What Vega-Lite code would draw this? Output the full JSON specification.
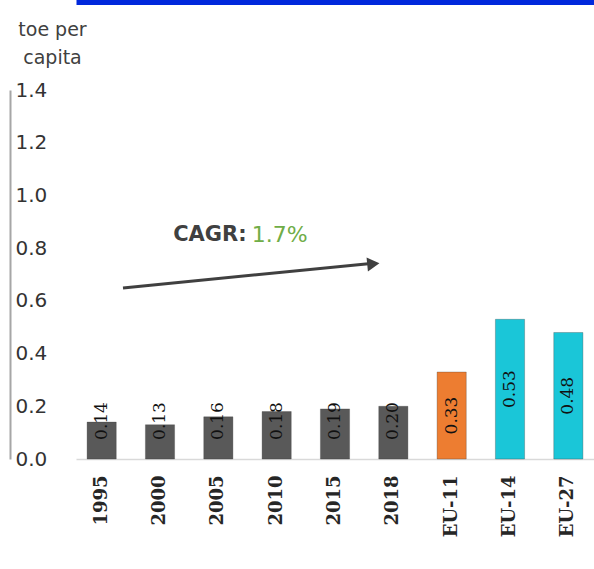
{
  "$schema": "https://vega.github.io/schema/vega-lite/v6.json",
  "width": 518,
  "height": 369,
  "autosize": {"type": "none"},
  "padding": {"left": 76, "top": 90, "right": 0, "bottom": 110},
  "background": "white",
  "config": {"view": {"stroke": null}, "font": "DejaVu Sans"},
  "data": {
    "values": [
      {"label": "1995", "value": 0.14, "kind": "Year"},
      {"label": "2000", "value": 0.13, "kind": "Year"},
      {"label": "2005", "value": 0.16, "kind": "Year"},
      {"label": "2010", "value": 0.18, "kind": "Year"},
      {"label": "2015", "value": 0.19, "kind": "Year"},
      {"label": "2018", "value": 0.20, "kind": "Year"},
      {"label": "EU-11", "value": 0.33, "kind": "EU-11"},
      {"label": "EU-14", "value": 0.53, "kind": "EU-14/27"},
      {"label": "EU-27", "value": 0.48, "kind": "EU-14/27"}
    ]
  },
  "resolve": {"scale": {"y": "independent"}},
  "layer": [
    {
      "layer": [
        {
          "mark": {"type": "bar", "stroke": "#3a3a3a", "strokeWidth": 0.6, "strokeOpacity": 0.5},
          "encoding": {
            "x": {
              "field": "label", "type": "nominal", "sort": null,
              "scale": {"paddingInner": 0.5, "paddingOuter": 0.19},
              "axis": {
                "orient": "bottom", "title": null, "labelAngle": 270, "labelPadding": 16,
                "labelFontSize": 18, "labelFont": "DejaVu Serif", "labelFontWeight": "bold", "labelColor": "#262626",
                "ticks": false, "tickSize": 0, "domainColor": "#D9D9D9", "domainWidth": 1.5, "grid": false
              }
            },
            "y": {
              "field": "value", "type": "quantitative",
              "scale": {"domain": [0, 1.4]},
              "axis": {
                "values": [0, 0.2, 0.4, 0.6, 0.8, 1.0, 1.2, 1.4], "format": ".1f",
                "offset": 66, "domainColor": "#A6A6A6", "domainWidth": 2,
                "ticks": false, "tickSize": 0, "grid": false,
                "labelAlign": "left", "labelBaseline": "middle", "labelPadding": -5,
                "labelFontSize": 20, "labelColor": "#333333",
                "title": ["toe per", "capita"], "titleAngle": 0, "titleAlign": "center",
                "titleBaseline": "alphabetic", "titleX": 42, "titleY": -55,
                "titleFontSize": 19, "titleFontWeight": "normal", "titleColor": "#404040",
                "titleLineHeight": 28
              }
            },
            "color": {
              "field": "kind", "type": "nominal",
              "scale": {"domain": ["Year", "EU-11", "EU-14/27"], "range": ["#595959", "#ED7D31", "#1AC6D8"]},
              "legend": null
            }
          }
        },
        {
          "transform": [{"filter": "datum.kind == 'Year'"}],
          "mark": {"type": "text", "angle": 270, "align": "center", "baseline": "middle", "dx": 38, "fontSize": 17, "font": "DejaVu Serif", "color": "#111111"},
          "encoding": {
            "x": {"field": "label", "type": "nominal", "sort": null, "axis": null},
            "y": {"datum": 0},
            "text": {"field": "value", "type": "quantitative", "format": ".2f"}
          }
        },
        {
          "data": {"values": [{}]},
          "mark": {"type": "rule", "strokeWidth": 3, "color": "#404040", "xOffset": -37, "x2Offset": -25},
          "encoding": {
            "x": {
              "datum": "2000",
              "axis": {"orient": "top", "offset": 88, "domainColor": "#0028DC", "domainWidth": 5, "labels": false, "ticks": false, "title": null, "grid": false}
            },
            "x2": {"datum": "2018"},
            "y": {"datum": 0.649},
            "y2": {"datum": 0.741}
          }
        },
        {
          "data": {"values": [{}]},
          "mark": {"type": "point", "shape": "triangle-right", "filled": true, "size": 200, "color": "#404040", "opacity": 1, "angle": -5.6, "xOffset": -20},
          "encoding": {
            "x": {"datum": "2018", "axis": null},
            "y": {"datum": 0.74}
          }
        },
        {
          "data": {"values": [{}]},
          "mark": {"type": "text", "text": "CAGR:", "align": "right", "baseline": "middle", "dx": -30, "fontSize": 21, "fontWeight": "bold", "color": "#404040"},
          "encoding": {
            "x": {"datum": "2010", "axis": null},
            "y": {"datum": 0.85}
          }
        },
        {
          "data": {"values": [{}]},
          "mark": {"type": "text", "text": "1.7%", "align": "left", "baseline": "middle", "dx": -25, "fontSize": 22, "color": "#70AD47"},
          "encoding": {
            "x": {"datum": "2010", "axis": null},
            "y": {"datum": 0.85}
          }
        }
      ]
    },
    {
      "transform": [{"filter": "datum.kind != 'Year'"}],
      "mark": {"type": "text", "angle": 270, "align": "center", "baseline": "middle", "fontSize": 17, "font": "DejaVu Serif", "color": "#111111"},
      "encoding": {
        "x": {"field": "label", "type": "nominal", "sort": null, "axis": null},
        "y": {"field": "value", "type": "quantitative", "scale": {"domain": [0, 2.8]}, "axis": null},
        "text": {"field": "value", "type": "quantitative", "format": ".2f"}
      }
    }
  ]
}
